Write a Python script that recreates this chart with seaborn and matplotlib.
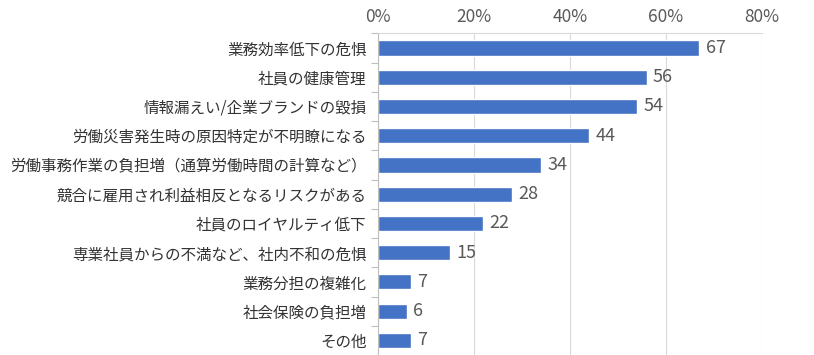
import numpy as np
import pandas as pd
import matplotlib
matplotlib.use("Agg")
import matplotlib.pyplot as plt
import seaborn as sns

categories = [
    "業務効率低下の危惧",
    "社員の健康管理",
    "情報漏えい/企業ブランドの毀損",
    "労働災害発生時の原因特定が不明瞭になる",
    "労働事務作業の負担増（通算労働時間の計算など）",
    "競合に雇用され利益相反となるリスクがある",
    "社員のロイヤルティ低下",
    "専業社員からの不満など、社内不和の危惧",
    "業務分担の複雑化",
    "社会保険の負担増",
    "その他",
]
values = [67, 56, 54, 44, 34, 28, 22, 15, 7, 6, 7]
xticks = [0, 20, 40, 60, 80]

sns.set_theme(style="white")
plt.rcParams["font.family"] = ["Noto Sans CJK JP", "DejaVu Sans"]

df = pd.DataFrame({"item": categories, "pct": values})

fig = plt.figure(figsize=(8.14, 3.55), dpi=100)
ax = fig.add_axes([0.464, 0.0, 0.472, 0.907])

sns.barplot(data=df, x="pct", y="item", color="#4472C4", saturation=1,
            width=0.52, ax=ax, orient="h")

ax.set_xlim(0, 80)
ax.set_ylim(len(categories) - 0.52, -0.51)
ax.set_xticks(xticks)
ax.set_xticklabels([f"{v}%" for v in xticks])
ax.xaxis.tick_top()
ax.tick_params(axis="x", length=0, pad=5, labelsize=12.5, labelcolor="#595959")
ax.tick_params(axis="y", which="major", length=0, pad=8, labelsize=11.2, labelcolor="#333333")
ax.set_yticks(np.arange(-0.5, len(categories), 1.0), minor=True)
ax.tick_params(axis="y", which="minor", length=5, width=0.8, color="#BFBFBF", left=True)
ax.set_xlabel("")
ax.set_ylabel("")

ax.grid(axis="x", color="#D9D9D9", linewidth=0.8)
ax.set_axisbelow(True)
for side in ["right", "bottom"]:
    ax.spines[side].set_visible(False)
ax.spines["left"].set_color("#BFBFBF")
ax.spines["top"].set_color("#D9D9D9")
ax.spines["left"].set_linewidth(0.8)
ax.spines["top"].set_linewidth(0.8)

for i, v in enumerate(values):
    ax.text(v + 1.3, i, str(v), va="center", ha="left", fontsize=13, color="#595959")

fig.savefig("out.png", dpi=100)
